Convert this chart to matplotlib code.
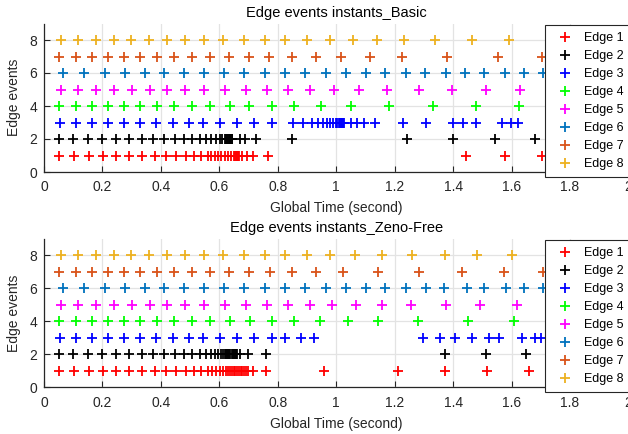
import matplotlib
matplotlib.use("Agg")
import matplotlib.pyplot as plt

plt.rcParams['font.family'] = ['Liberation Sans', 'DejaVu Sans']

# Event instants (seconds) per edge, Basic triggering
basic_edge1 = [0.052, 0.103, 0.154, 0.201, 0.248, 0.291, 0.337, 0.379, 0.419, 0.453, 0.485,
               0.512, 0.538, 0.561, 0.572, 0.584, 0.595, 0.606, 0.618, 0.629, 0.640, 0.650,
               0.654, 0.657, 0.659, 0.661, 0.662, 0.663, 0.664, 0.665, 0.666, 0.679, 0.694,
               0.716, 0.768, 1.443, 1.579, 1.704]
basic_edge2 = [0.052, 0.100, 0.151, 0.198, 0.246, 0.290, 0.334, 0.373, 0.411, 0.447, 0.478,
               0.507, 0.535, 0.555, 0.572, 0.587, 0.601, 0.610, 0.618, 0.623, 0.627, 0.630,
               0.633, 0.635, 0.637, 0.638, 0.639, 0.640, 0.641, 0.642, 0.644, 0.669, 0.688,
               0.726, 0.849, 1.242, 1.401, 1.542, 1.681]
basic_edge3 = [0.055, 0.109, 0.165, 0.219, 0.275, 0.329, 0.383, 0.441, 0.496, 0.544, 0.602,
               0.661, 0.720, 0.779, 0.851, 0.885, 0.916, 0.938, 0.953, 0.968, 0.980, 0.990,
               0.998, 1.004, 1.009, 1.013, 1.016, 1.018, 1.020, 1.021, 1.022, 1.023, 1.024,
               1.025, 1.050, 1.070, 1.094, 1.131, 1.230, 1.307, 1.401, 1.432, 1.479, 1.566,
               1.597, 1.623]
basic_edge4 = [0.052, 0.108, 0.163, 0.218, 0.274, 0.328, 0.387, 0.445, 0.506, 0.568, 0.635,
               0.703, 0.781, 0.857, 0.949, 1.052, 1.181, 1.331, 1.479, 1.627]
basic_edge5 = [0.058, 0.118, 0.178, 0.239, 0.300, 0.362, 0.422, 0.484, 0.548, 0.620, 0.692,
               0.762, 0.834, 0.911, 0.991, 1.078, 1.173, 1.283, 1.395, 1.511, 1.630]
basic_edge6 = [0.066, 0.137, 0.208, 0.277, 0.345, 0.411, 0.479, 0.547, 0.615, 0.685, 0.757,
               0.824, 0.894, 0.965, 1.033, 1.101, 1.167, 1.238, 1.305, 1.375, 1.440, 1.506,
               1.577, 1.643, 1.708]
basic_edge7 = [0.052, 0.108, 0.163, 0.218, 0.274, 0.328, 0.387, 0.445, 0.506, 0.568, 0.632,
               0.701, 0.769, 0.847, 0.931, 1.017, 1.114, 1.224, 1.378, 1.554, 1.704]
basic_edge8 = [0.058, 0.118, 0.177, 0.238, 0.298, 0.358, 0.420, 0.484, 0.547, 0.613, 0.683,
               0.755, 0.826, 0.901, 0.978, 1.057, 1.141, 1.231, 1.337, 1.463, 1.590]

# Event instants (seconds) per edge, Zeno-Free triggering
zf_edge1 = [0.052, 0.103, 0.154, 0.201, 0.248, 0.291, 0.337, 0.379, 0.419, 0.453, 0.485,
            0.512, 0.538, 0.561, 0.576, 0.590, 0.602, 0.613, 0.624, 0.631, 0.637, 0.643,
            0.649, 0.655, 0.661, 0.667, 0.673, 0.679, 0.685, 0.691, 0.697, 0.714, 0.759,
            0.959, 1.213, 1.372, 1.516, 1.659]
zf_edge2 = [0.052, 0.100, 0.151, 0.198, 0.246, 0.290, 0.334, 0.373, 0.411, 0.447, 0.478,
            0.507, 0.533, 0.555, 0.570, 0.584, 0.595, 0.606, 0.613, 0.618, 0.622, 0.626,
            0.630, 0.634, 0.638, 0.642, 0.646, 0.650, 0.654, 0.658, 0.662, 0.672, 0.699,
            0.759, 1.372, 1.511, 1.650]
zf_edge3 = [0.055, 0.109, 0.165, 0.219, 0.275, 0.328, 0.383, 0.441, 0.496, 0.544, 0.602,
            0.661, 0.720, 0.780, 0.823, 0.879, 0.923, 1.297, 1.355, 1.406, 1.466, 1.524,
            1.558, 1.636, 1.680, 1.699]
zf_edge4 = [0.052, 0.108, 0.163, 0.218, 0.274, 0.328, 0.387, 0.445, 0.506, 0.568, 0.635,
            0.705, 0.780, 0.857, 0.944, 1.039, 1.143, 1.281, 1.452, 1.608]
zf_edge5 = [0.058, 0.118, 0.178, 0.239, 0.300, 0.362, 0.422, 0.484, 0.548, 0.620, 0.691,
            0.762, 0.834, 0.910, 0.987, 1.069, 1.158, 1.257, 1.374, 1.493, 1.617]
zf_edge6 = [0.066, 0.137, 0.208, 0.277, 0.345, 0.411, 0.479, 0.547, 0.615, 0.685, 0.757,
            0.824, 0.894, 0.965, 1.035, 1.101, 1.167, 1.238, 1.308, 1.368, 1.448, 1.504,
            1.580, 1.643, 1.708]
zf_edge7 = [0.052, 0.108, 0.163, 0.218, 0.274, 0.328, 0.387, 0.445, 0.506, 0.568, 0.632,
            0.701, 0.772, 0.848, 0.929, 1.024, 1.143, 1.283, 1.430, 1.575, 1.708]
zf_edge8 = [0.058, 0.118, 0.177, 0.238, 0.298, 0.358, 0.420, 0.484, 0.547, 0.613, 0.683,
            0.755, 0.826, 0.901, 0.978, 1.065, 1.158, 1.260, 1.372, 1.483, 1.602]

edge_labels = ['Edge 1', 'Edge 2', 'Edge 3', 'Edge 4', 'Edge 5', 'Edge 6', 'Edge 7', 'Edge 8']
edge_levels = [1, 2, 3, 4, 5, 6, 7, 8]
edge_colors = ['#FF0000', '#000000', '#0000FF', '#00FF00', '#FF00FF',
               '#0072BD', '#D95319', '#EDB120']
x_ticks = [0, 0.2, 0.4, 0.6, 0.8, 1, 1.2, 1.4, 1.6, 1.8, 2]
x_tick_labels = ['0', '0.2', '0.4', '0.6', '0.8', '1', '1.2', '1.4', '1.6', '1.8', '2']
y_ticks = [0, 2, 4, 6, 8]

panels = [
    ('Edge events instants_Basic',
     [basic_edge1, basic_edge2, basic_edge3, basic_edge4,
      basic_edge5, basic_edge6, basic_edge7, basic_edge8]),
    ('Edge events instants_Zeno-Free',
     [zf_edge1, zf_edge2, zf_edge3, zf_edge4,
      zf_edge5, zf_edge6, zf_edge7, zf_edge8]),
]

W, H = 628, 434
fig = plt.figure(figsize=(W / 100, H / 100), dpi=100)

# axes boxes in pixels: left, top, right, bottom
boxes = [(44, 23.5, 628.5, 172), (44, 238.8, 628.5, 387.3)]
axis_col = '#262626'

for (title, series), (l, t, r, b) in zip(panels, boxes):
    ax = fig.add_axes([l / W, 1 - b / H, (r - l) / W, (b - t) / H])
    for times, lvl, col, lab in zip(series, edge_levels, edge_colors, edge_labels):
        ax.plot(times, [lvl] * len(times), linestyle='none', marker='+',
                markersize=6.5, markeredgewidth=1.3, color=col, label=lab)
    ax.set_xlim(0, 2)
    ax.set_ylim(0, 9)
    ax.set_xticks(x_ticks)
    ax.set_xticklabels(x_tick_labels)
    ax.set_yticks(y_ticks)
    ax.grid(True, color='#e3e3e3', linewidth=0.9)
    ax.set_axisbelow(True)
    for s in ('top', 'right'):
        ax.spines[s].set_visible(False)
    for s in ('left', 'bottom'):
        ax.spines[s].set_color(axis_col)
        ax.spines[s].set_linewidth(0.9)
    ax.tick_params(direction='in', length=4, width=0.8, colors=axis_col,
                   labelsize=10, labelcolor=axis_col)
    ax.tick_params(axis='x', pad=6)
    ax.tick_params(axis='y', pad=5)
    ax.set_title(title, fontsize=10.5, color='black', pad=5)
    ax.set_xlabel('Global Time (second)', fontsize=10, color=axis_col, labelpad=5)
    ax.set_ylabel('Edge events', fontsize=10, color=axis_col, labelpad=6)
    leg = ax.legend(loc='upper left', bbox_to_anchor=(545 / W, 1 - (t + 1.5) / H),
                    bbox_transform=fig.transFigure, fontsize=9, frameon=True,
                    fancybox=False, borderaxespad=0, handlelength=2.1,
                    handletextpad=0.47, labelspacing=0.48, borderpad=0.55,
                    markerscale=1.0)
    leg.get_frame().set_edgecolor(axis_col)
    leg.get_frame().set_linewidth(0.8)
    leg.get_frame().set_alpha(1)

fig.savefig('out.png', dpi=100)
